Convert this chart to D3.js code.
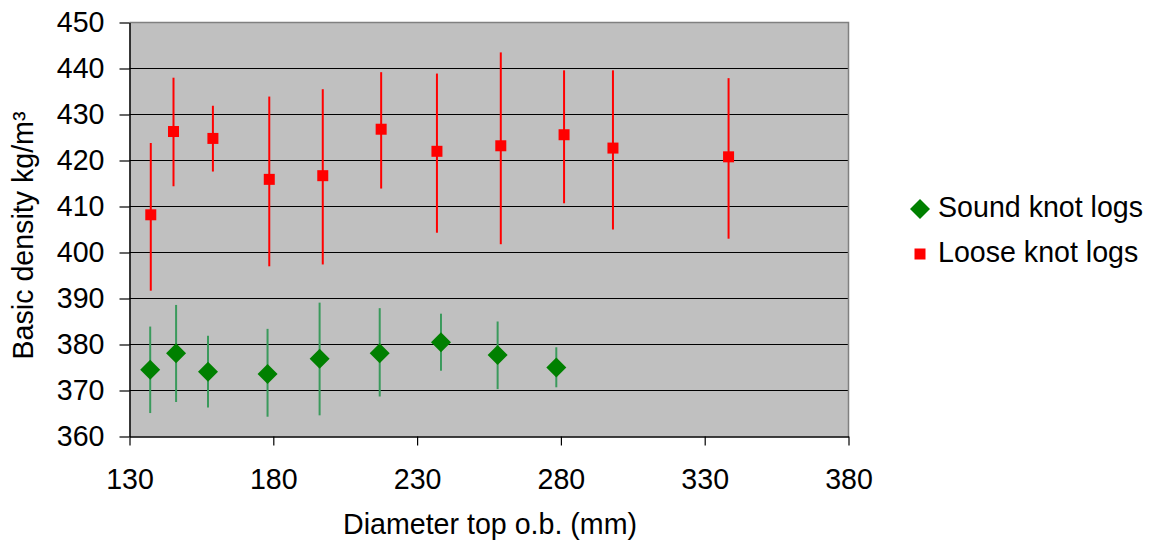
<!DOCTYPE html>
<html>
<head>
<meta charset="utf-8">
<script src="https://cdn.jsdelivr.net/npm/d3@7"></script>
<style>
  body { margin: 0; background: #fff; }
  text { font-family: "Liberation Sans", Arial, sans-serif; fill: #000; }
</style>
</head>
<body>
<svg id="chart" width="1150" height="545"></svg>
<script>
// diameter (mm), mean density, error low, error high
const soundX = [137.2, 146.2, 157.3, 178.0, 196.1, 217.0, 238.3, 258.0, 278.4]
const soundY = [374.5, 378.1, 374.1, 373.6, 376.9, 378.1, 380.5, 377.7, 375.0]
const soundLo = [365.1, 367.5, 366.3, 364.3, 364.6, 368.7, 374.3, 370.3, 370.7]
const soundHi = [383.9, 388.6, 381.9, 383.4, 389.1, 387.9, 386.7, 385.0, 379.4]

const looseX = [137.4, 145.3, 159.0, 178.6, 197.2, 217.5, 236.9, 259.1, 281.1, 298.1, 338.3]
const looseY = [408.2, 426.3, 424.8, 415.9, 416.7, 426.8, 422.0, 423.2, 425.6, 422.7, 420.8]
const looseLo = [391.7, 414.4, 417.6, 397.0, 397.4, 413.9, 404.3, 401.8, 410.7, 405.0, 403.0]
const looseHi = [423.8, 438.0, 431.9, 433.9, 435.5, 439.2, 438.9, 443.5, 439.6, 439.6, 437.9]

const xTicks = [130, 180, 230, 280, 330, 380]
const yTicks = [360, 370, 380, 390, 400, 410, 420, 430, 440, 450]

const seriesNames = ["Sound knot logs", "Loose knot logs"]

const margin = { left: 129.5, top: 22.5 }
const w = 719, h = 414
const fs = 28.6

const svg = d3.select("#chart")
const x = d3.scaleLinear().domain([130, 380]).range([0, w])
const y = d3.scaleLinear().domain([360, 450]).range([h, 0])

const g = svg.append("g").attr("transform", `translate(${margin.left},${margin.top})`)

g.append("rect").attr("width", w).attr("height", h).attr("fill", "#c0c0c0")

// gridlines
g.append("g")
  .selectAll("line")
  .data(yTicks.slice(1, -1))
  .enter()
  .append("line")
  .attr("x1", 0)
  .attr("x2", w)
  .attr("y1", d => y(d))
  .attr("y2", d => y(d))
  .attr("stroke", "#000")
  .attr("stroke-width", 1.2)

// top / right border
g.append("path")
  .attr("d", `M0,0H${w}V${h}`)
  .attr("fill", "none")
  .attr("stroke", "#808080")
  .attr("stroke-width", 1.5)

const yAxis = g.append("g")
  .call(d3.axisLeft(y).tickValues(yTicks).tickSize(10).tickPadding(15).tickSizeOuter(0))
yAxis.select(".domain").attr("stroke", "#000").attr("stroke-width", 1.5)
yAxis.selectAll(".tick line").attr("stroke", "#000").attr("stroke-width", 1.2)
yAxis.selectAll("text").attr("font-size", fs).attr("font-family", "Liberation Sans, Arial, sans-serif").attr("fill", "#000")

const xAxis = g.append("g")
  .attr("transform", `translate(0,${h})`)
  .call(d3.axisBottom(x).tickValues(xTicks).tickSize(9).tickPadding(23).tickSizeOuter(0))
xAxis.select(".domain").attr("stroke", "#000").attr("stroke-width", 1.5)
xAxis.selectAll(".tick line").attr("stroke", "#000").attr("stroke-width", 1.2)
xAxis.selectAll("text").attr("font-size", fs).attr("font-family", "Liberation Sans, Arial, sans-serif").attr("fill", "#000")

const sound = soundX.map((d, i) => ({ x: d, y: soundY[i], lo: soundLo[i], hi: soundHi[i] }))
const loose = looseX.map((d, i) => ({ x: d, y: looseY[i], lo: looseLo[i], hi: looseHi[i] }))

// error bars
g.append("g")
  .selectAll("line")
  .data(loose)
  .enter()
  .append("line")
  .attr("x1", d => x(d.x))
  .attr("x2", d => x(d.x))
  .attr("y1", d => y(d.lo))
  .attr("y2", d => y(d.hi))
  .attr("stroke", "#ff0000")
  .attr("stroke-width", 2)

g.append("g")
  .selectAll("line")
  .data(sound)
  .enter()
  .append("line")
  .attr("x1", d => x(d.x))
  .attr("x2", d => x(d.x))
  .attr("y1", d => y(d.lo))
  .attr("y2", d => y(d.hi))
  .attr("stroke", "#3a9a5c")
  .attr("stroke-width", 2)

const diamond = s => `M0,${-s}L${s},0L0,${s}L${-s},0Z`

g.append("g")
  .selectAll("rect")
  .data(loose)
  .enter()
  .append("rect")
  .attr("x", d => x(d.x) - 5.5)
  .attr("y", d => y(d.y) - 5.5)
  .attr("width", 11)
  .attr("height", 11)
  .attr("fill", "#ff0000")

g.append("g")
  .selectAll("path")
  .data(sound)
  .enter()
  .append("path")
  .attr("transform", d => `translate(${x(d.x)},${y(d.y)})`)
  .attr("d", diamond(10))
  .attr("fill", "#008000")

// axis titles
svg.append("text")
  .attr("transform", `translate(33,${margin.top + h / 2 + 6}) rotate(-90)`)
  .attr("text-anchor", "middle")
  .attr("font-size", fs)
  .text("Basic density kg/m³")

svg.append("text")
  .attr("x", margin.left + w / 2 + 1)
  .attr("y", 534)
  .attr("text-anchor", "middle")
  .attr("font-size", fs)
  .text("Diameter top o.b. (mm)")

// legend
const legend = svg.append("g").attr("transform", "translate(920,0)")
legend.append("path")
  .attr("transform", "translate(0,209)")
  .attr("d", diamond(10))
  .attr("fill", "#008000")
legend.append("rect")
  .attr("x", -5.5).attr("y", 248.5)
  .attr("width", 11).attr("height", 11)
  .attr("fill", "#ff0000")
legend.selectAll("text.lab")
  .data(seriesNames)
  .enter()
  .append("text")
  .attr("class", "lab")
  .attr("x", 18)
  .attr("y", (d, i) => 217 + i * 45)
  .attr("font-size", fs)
  .text(d => d)
</script>
</body>
</html>
